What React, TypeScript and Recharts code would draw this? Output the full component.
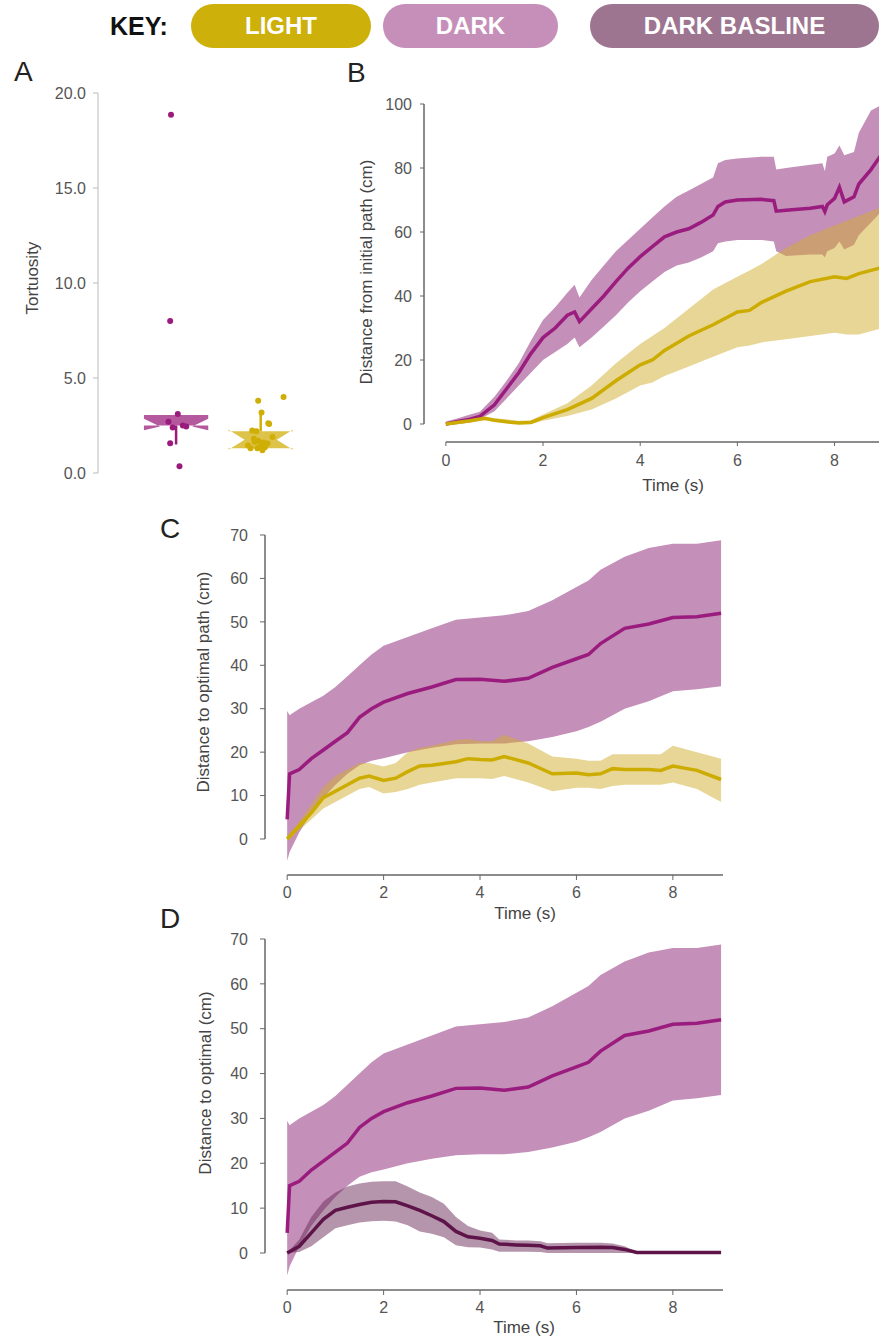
import React from 'react';
import { ComposedChart, Area, Line, XAxis, YAxis, Scatter, ReferenceLine, ReferenceArea } from 'recharts';

// ---- key ----
const keyLabels = ['LIGHT', 'DARK', 'DARK BASLINE'];
const keyColors = ['#cdb00a', '#c58fb9', '#9d7590'];

// ---- panel A: tortuosity, notched boxes + jittered points ----
const boxGroups = ['DARK', 'LIGHT'];
const boxPos = [1, 2];
const boxQ1 = [2.5, 1.3];
const boxMedian = [2.45, 1.75];
const boxQ3 = [3.05, 2.2];
const notchLow = [2.25, 1.22];
const notchHigh = [2.85, 2.28];
const whiskerFrom = [2.5, 2.2];
const whiskerTo = [1.5, 3.15];

const darkJitter = [0.94, 0.93, 1.02, 0.91, 0.96, 1.12, 0.93, 1.04, 1.08];
const darkTort = [18.85, 8.0, 3.1, 2.7, 2.4, 2.45, 1.56, 0.36, 2.5];
const lightJitter = [1.97, 2.27, 2.01, 2.09, 2.1, 1.9, 1.95, 2.14, 1.92, 1.97, 2.03, 1.88, 1.96, 1.99, 2.05, 2.08, 1.85, 2.02, 1.93];
const lightTort = [3.8, 4.0, 3.18, 2.62, 2.58, 2.24, 2.2, 1.9, 1.8, 1.7, 1.6, 1.3, 1.3, 1.4, 1.35, 1.55, 1.45, 1.2, 1.65];

// ---- panel B: distance from initial path ----
const bDarkTime = [0, 0.25, 0.5, 0.7, 1.0, 1.25, 1.5, 1.75, 2.0, 2.25, 2.5, 2.65, 2.75, 3.0, 3.25, 3.5, 3.75, 4.0, 4.25, 4.5, 4.75, 5.0, 5.25, 5.5, 5.6, 5.75, 6.0, 6.5, 6.75, 6.8, 7.0, 7.5, 7.75, 7.8, 7.85, 8.0, 8.1, 8.2, 8.4, 8.5, 8.75, 9.0];
const bDarkMean = [0, 0.8, 1.5, 2.4, 6, 11, 16, 22, 27, 30, 34, 35, 32, 36, 40, 44.5, 48.7, 52.3, 55.4, 58.5, 60, 61, 63, 65.3, 68, 69.4, 70, 70.2, 69.8, 66.5, 66.8, 67.4, 68, 66.4, 68.5, 70.5, 74, 69.4, 71, 75, 79.5, 85];
const bDarkHigh = [0.8, 1.8, 3, 3.8, 8.5, 13.5, 19, 26, 32.5, 36.5, 41, 43.5, 39.5, 45, 49.5, 54, 57.5, 61, 64.5, 68, 71, 73, 75, 77, 81.5, 82.5, 83, 83.5, 83.5, 79.5, 80, 81, 81.5, 79, 83.5, 84.5, 87, 84, 85, 91, 98, 100];
const bDarkLow = [-0.5, 0, 0.5, 1.5, 4, 8, 12, 16, 20, 22.5, 25, 27, 24, 27, 30.5, 34, 38, 41.5, 44.5, 47.5, 49.5, 50.5, 52, 54, 56.5, 57, 57.5, 57.5, 57, 54, 52.5, 53, 53, 52, 54, 55, 57, 54.5, 56, 59, 63, 67];

const bLightTime = [0, 0.5, 0.8, 1.0, 1.25, 1.5, 1.75, 2.0, 2.5, 3.0, 3.5, 4.0, 4.25, 4.5, 5.0, 5.5, 6.0, 6.25, 6.5, 7.0, 7.5, 8.0, 8.25, 8.5, 9.0];
const bLightMean = [0, 1, 1.8, 1.2, 0.7, 0.3, 0.5, 2, 4.5, 8, 13.5, 18.5, 20, 23, 27.5, 31, 35, 35.5, 38, 41.5, 44.5, 46, 45.5, 47, 49];
const bLightHigh = [0.5, 1.5, 2.2, 1.8, 1.5, 1, 1.2, 3, 6.5, 12, 19, 25, 27.5, 30, 36, 42, 46, 48, 50, 55, 59, 62, 63.5, 65, 68];
const bLightLow = [-0.5, 0.5, 1.2, 0.7, 0.2, 0, 0, 1, 2.5, 4.5, 8, 12, 13, 15, 18, 21, 24, 24.5, 25.5, 26.5, 27.5, 28.5, 28, 28, 30];

// ---- panel C: distance to optimal path ----
const cDarkTime = [0, 0.05, 0.25, 0.5, 0.75, 1.0, 1.25, 1.5, 1.75, 2.0, 2.5, 3.0, 3.5, 4.0, 4.5, 5.0, 5.5, 6.0, 6.25, 6.5, 7.0, 7.5, 8.0, 8.5, 9.0];
const cDarkMean = [4.5, 15, 16, 18.5, 20.5, 22.5, 24.5, 28, 30, 31.5, 33.5, 35, 36.7, 36.8, 36.3, 37, 39.5, 41.5, 42.5, 45, 48.5, 49.5, 51, 51.2, 52];
const cDarkHigh = [29.5, 28.5, 30, 31.5, 33, 35, 37.5, 40, 42.5, 44.5, 46.5, 48.5, 50.5, 51, 51.5, 52.5, 55, 58, 59.5, 62, 65, 67, 68, 68, 68.8];
const cDarkLow = [-5, -3, 1.5, 6, 9.5, 12.5, 15, 17, 18, 18.6, 20, 21, 21.8, 22, 22, 22.5, 23.5, 24.8, 25.8, 27, 30, 31.7, 34, 34.5, 35.2];

const cLightTime = [0, 0.25, 0.5, 0.75, 1.0, 1.25, 1.5, 1.7, 2.0, 2.25, 2.5, 2.75, 3.0, 3.5, 3.75, 4.0, 4.25, 4.5, 5.0, 5.5, 6.0, 6.25, 6.5, 6.75, 7.0, 7.5, 7.75, 8.0, 8.5, 9.0];
const cLightMean = [0, 3, 6, 9.5, 11, 12.5, 14, 14.5, 13.5, 14, 15.5, 16.8, 17, 17.8, 18.5, 18.3, 18.2, 19, 17.5, 15, 15.2, 14.8, 15, 16.2, 16, 16, 15.8, 16.8, 15.8, 13.7];
const cLightHigh = [0.5, 4, 8, 12, 14.5, 16, 17.5, 17.5, 16.7, 17.5, 20, 21, 21.5, 22.8, 23, 22.5, 22.5, 24, 22, 19, 18.5, 18, 18, 19.5, 19.5, 19.5, 19.5, 21.5, 20, 18.5];
const cLightLow = [-0.5, 2, 4.5, 7, 8.5, 10, 11.5, 12, 10.5, 10.8, 11.5, 12.5, 13, 14, 14, 14, 13.8, 14.5, 13, 11, 11.8, 11.8, 11.5, 12.2, 12.5, 12.5, 12.5, 13, 11.5, 8.5];

// ---- panel D: dark (same curve as C) vs dark baseline ----
const dBaseTime = [0, 0.25, 0.5, 0.75, 1.0, 1.25, 1.5, 1.75, 2.0, 2.25, 2.5, 2.75, 3.0, 3.25, 3.5, 3.75, 4.0, 4.25, 4.4, 4.75, 5.0, 5.25, 5.4, 6.0, 6.5, 6.75, 7.0, 7.25, 8.0, 9.0];
const dBaseMean = [0, 1.5, 4.5, 7.5, 9.5, 10.2, 10.8, 11.3, 11.5, 11.4, 10.5, 9.5, 8.3, 7, 4.8, 3.6, 3.3, 2.8, 2, 1.8, 1.7, 1.6, 1.1, 1.2, 1.3, 1.2, 0.8, 0.1, 0.1, 0.1];
const dBaseHigh = [0, 3, 8, 11.5, 13.5, 14.8, 15.5, 15.9, 16, 16, 14.8, 13.5, 12.5, 11, 8, 6, 5, 4.5, 3, 2.8, 2.8, 2.6, 2.2, 2.3, 2.3, 2.1, 1.5, 0.3, 0.3, 0.3];
const dBaseLow = [0, 0.2, 1.5, 3.5, 5.5, 6.2, 6.8, 7.1, 7.2, 7, 6.2, 4.8, 4.3, 3.5, 1.7, 1.3, 1.2, 0.8, 0.3, 0.3, 0.3, 0.2, 0, 0, 0, 0, 0, 0, 0, 0];

const timeTicks = [0, 2, 4, 6, 8];
const bTicks = [0, 20, 40, 60, 80, 100];
const cdTicks = [0, 10, 20, 30, 40, 50, 60, 70];
const aTicks = [0, 5, 10, 15, 20];

const PURPLE = '#9a1c7e';
const PURPLE_BAND = '#8a2072';
const GOLD = '#cdac02';
const GOLD_BAND = '#d1ad2d';
const PLUM = '#5e1449';
const PLUM_BAND = '#6a2c5a';
const AXIS = '#666';
const TICK = { fill: '#555', fontSize: 16 };

const rows = (t: number[], lo: number[], mean: number[], hi: number[]) =>
  t.map((tt, i) => ({ t: tt, band: [lo[i], hi[i]], mean: mean[i] }));

const bDark = rows(bDarkTime, bDarkLow, bDarkMean, bDarkHigh);
const bLight = rows(bLightTime, bLightLow, bLightMean, bLightHigh);
const cDark = rows(cDarkTime, cDarkLow, cDarkMean, cDarkHigh);
const cLight = rows(cLightTime, cLightLow, cLightMean, cLightHigh);
const dBase = rows(dBaseTime, dBaseLow, dBaseMean, dBaseHigh);

const darkPoints = darkJitter.map((x, i) => ({ x, y: darkTort[i] }));
const lightPoints = lightJitter.map((x, i) => ({ x, y: lightTort[i] }));

const vTitle = (text: string, x: number, y: number) => () => (
  <text x={x} y={y} transform={`rotate(-90 ${x} ${y})`} textAnchor="middle" dominantBaseline="central" fill="#444" fontSize={17}>
    {text}
  </text>
);
const hTitle = (text: string, x: number, y: number) => () => (
  <text x={x} y={y} textAnchor="middle" dominantBaseline="central" fill="#444" fontSize={17}>
    {text}
  </text>
);

const dot = (color: string) => (p: any) => <circle cx={p.cx} cy={p.cy} r={3} fill={color} />;

// notched box drawn inside the rect that recharts maps from the data corners
const notchShape = (i: number, fill: string) => (p: any) => {
  const top = Math.max(boxQ3[i], notchHigh[i]);
  const bottom = Math.min(boxQ1[i], notchLow[i]);
  const py = (v: number) => p.y + ((top - v) / (top - bottom)) * p.height;
  const L = p.x;
  const R = p.x + p.width;
  const c = p.x + p.width / 2;
  const q = p.width / 4;
  const pts = [
    [L, py(boxQ3[i])], [R, py(boxQ3[i])], [R, py(notchHigh[i])], [c + q, py(boxMedian[i])],
    [R, py(notchLow[i])], [R, py(boxQ1[i])], [L, py(boxQ1[i])], [L, py(notchLow[i])],
    [c - q, py(boxMedian[i])], [L, py(notchHigh[i])],
  ];
  return <polygon points={pts.map((d) => d.join(',')).join(' ')} fill={fill} />;
};

const boxFill = ['#b5599f', '#ddc34a'];
const pointColor = ['#9b1b7d', '#cfae05'];
const halfWidth = 0.38;

const letter = (ch: string, left: number, top: number) => (
  <div style={{ position: 'absolute', left, top, fontSize: 28, lineHeight: 1, color: '#222' }}>{ch}</div>
);

function PanelA() {
  return (
    <ComposedChart width={310} height={410} margin={{ top: 13, right: 7, bottom: 17, left: 0 }}>
      <XAxis type="number" dataKey="x" domain={[0.077, 2.5]} hide allowDataOverflow />
      <YAxis
        type="number"
        dataKey="y"
        domain={[0, 20]}
        ticks={aTicks}
        tickFormatter={(v: number) => v.toFixed(1)}
        width={98}
        stroke="#bbb"
        tick={TICK}
        tickSize={5}
        tickMargin={7}
        allowDataOverflow
        label={vTitle('Tortuosity', 32, 198)}
      />
      {boxGroups.map((g, i) => (
        <ReferenceArea
          key={g}
          x1={boxPos[i] - halfWidth}
          x2={boxPos[i] + halfWidth}
          y1={Math.min(boxQ1[i], notchLow[i])}
          y2={Math.max(boxQ3[i], notchHigh[i])}
          shape={notchShape(i, boxFill[i])}
        />
      ))}
      {boxGroups.map((g, i) => (
        <ReferenceLine
          key={g + 'w'}
          segment={[{ x: boxPos[i], y: whiskerFrom[i] }, { x: boxPos[i], y: whiskerTo[i] }]}
          stroke={pointColor[i]}
          strokeWidth={2.5}
        />
      ))}
      <Scatter data={darkPoints} shape={dot(pointColor[0])} isAnimationActive={false} />
      <Scatter data={lightPoints} shape={dot(pointColor[1])} isAnimationActive={false} />
    </ComposedChart>
  );
}

interface BandSeries { data: { t: number; band: number[]; mean: number }[]; line: string; band: string; opacity: number; }

function TimePanel(props: {
  width: number; height: number; margin: { top: number; right: number; bottom: number; left: number };
  xDomain: [number, number]; yDomain: [number, number]; yTicks: number[]; yWidth: number;
  xHeight: number; tickSize: number; yTickMargin: number; xTickMargin: number;
  series: BandSeries[]; yTitle: () => React.ReactElement; xTitle: () => React.ReactElement;
}) {
  const { xDomain, yDomain, yTicks } = props;
  return (
    <ComposedChart width={props.width} height={props.height} margin={props.margin}>
      <XAxis
        type="number"
        dataKey="t"
        domain={xDomain}
        ticks={timeTicks}
        axisLine={false}
        stroke={AXIS}
        tick={TICK}
        tickSize={props.tickSize}
        tickMargin={props.xTickMargin}
        height={props.xHeight}
        allowDataOverflow
        label={props.xTitle}
      />
      <YAxis
        type="number"
        domain={yDomain}
        ticks={yTicks}
        axisLine={false}
        stroke={AXIS}
        tick={TICK}
        tickSize={props.tickSize}
        tickMargin={props.yTickMargin}
        width={props.yWidth}
        allowDataOverflow
        label={props.yTitle}
      />
      <ReferenceLine
        segment={[{ x: xDomain[0], y: 0 }, { x: xDomain[0], y: yTicks[yTicks.length - 1] }]}
        stroke={AXIS}
        strokeWidth={1.5}
        ifOverflow="visible"
      />
      <ReferenceLine
        segment={[{ x: 0, y: yDomain[0] }, { x: xDomain[1], y: yDomain[0] }]}
        stroke={AXIS}
        strokeWidth={1.5}
        ifOverflow="visible"
      />
      {props.series.map((s, i) => (
        <Area
          key={'a' + i}
          data={s.data}
          dataKey="band"
          type="linear"
          fill={s.band}
          fillOpacity={s.opacity}
          stroke="none"
          isAnimationActive={false}
        />
      ))}
      {props.series.map((s, i) => (
        <Line
          key={'l' + i}
          data={s.data}
          dataKey="mean"
          type="linear"
          stroke={s.line}
          strokeWidth={3.5}
          dot={false}
          isAnimationActive={false}
        />
      ))}
    </ComposedChart>
  );
}

export default function App() {
  return (
    <div
      style={{
        position: 'absolute', left: 0, top: 0, width: 879, height: 1338, overflow: 'hidden',
        background: '#fff', fontFamily: '"Liberation Sans", Arial, sans-serif',
      }}
    >
      <div style={{ position: 'absolute', left: 110, top: 4, height: 44, display: 'flex', alignItems: 'center', fontSize: 25, fontWeight: 700, color: '#111' }}>
        KEY:
      </div>
      {keyLabels.map((k, i) => (
        <div
          key={k}
          style={{
            position: 'absolute', left: [191, 383, 590][i], top: 4, width: [180, 175, 289][i], height: 44,
            borderRadius: 22, background: keyColors[i], color: '#fff', fontWeight: 700, fontSize: 24,
            display: 'flex', alignItems: 'center', justifyContent: 'center',
          }}
        >
          {k}
        </div>
      ))}

      {letter('A', 14, 58)}
      {letter('B', 347, 59)}
      {letter('C', 160, 515)}
      {letter('D', 160, 905)}

      <div style={{ position: 'absolute', left: 0, top: 80 }}>
        <PanelA />
      </div>

      <div style={{ position: 'absolute', left: 330, top: 60 }}>
        <TimePanel
          width={560} height={450} margin={{ top: 44, right: 2, bottom: 13, left: 0 }}
          xDomain={[-0.45, 9.1]} yDomain={[-5.625, 100]} yTicks={bTicks} yWidth={94} xHeight={55}
          tickSize={4} yTickMargin={8} xTickMargin={9}
          series={[
            { data: bDark, line: PURPLE, band: PURPLE_BAND, opacity: 0.5 },
            { data: bLight, line: GOLD, band: GOLD_BAND, opacity: 0.5 },
          ]}
          yTitle={vTitle('Distance from initial path (cm)', 36, 212)}
          xTitle={hTitle('Time (s)', 343, 425)}
        />
      </div>

      <div style={{ position: 'absolute', left: 180, top: 515 }}>
        <TimePanel
          width={545} height={420} margin={{ top: 20, right: 2, bottom: 10, left: 0 }}
          xDomain={[-0.46, 9.04]} yDomain={[-8.29, 70]} yTicks={cdTicks} yWidth={85} xHeight={50}
          tickSize={5} yTickMargin={12} xTickMargin={7}
          series={[
            { data: cDark, line: PURPLE, band: PURPLE_BAND, opacity: 0.5 },
            { data: cLight, line: GOLD, band: GOLD_BAND, opacity: 0.5 },
          ]}
          yTitle={vTitle('Distance to optimal path (cm)', 23, 167)}
          xTitle={hTitle('Time (s)', 345, 398)}
        />
      </div>

      <div style={{ position: 'absolute', left: 180, top: 919 }}>
        <TimePanel
          width={545} height={419} margin={{ top: 20, right: 2, bottom: 3, left: 0 }}
          xDomain={[-0.46, 9.04]} yDomain={[-8.25, 70]} yTicks={cdTicks} yWidth={85} xHeight={45}
          tickSize={5} yTickMargin={12} xTickMargin={7}
          series={[
            { data: cDark, line: PURPLE, band: PURPLE_BAND, opacity: 0.5 },
            { data: dBase, line: PLUM, band: PLUM_BAND, opacity: 0.5 },
          ]}
          yTitle={vTitle('Distance to optimal (cm)', 25, 164)}
          xTitle={hTitle('Time (s)', 344, 408)}
        />
      </div>
    </div>
  );
}
